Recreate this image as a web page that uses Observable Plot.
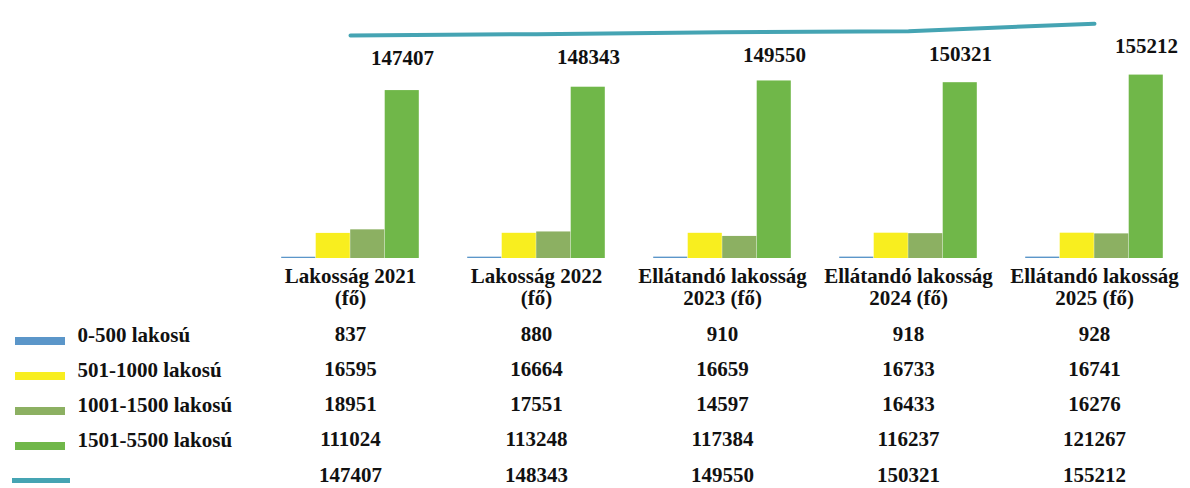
<!DOCTYPE html>
<html>
<head>
<meta charset="utf-8">
<script src="https://cdn.jsdelivr.net/npm/d3@7"></script>
<script src="https://cdn.jsdelivr.net/npm/@observablehq/plot@0.6"></script>
<style>
  html, body { margin: 0; padding: 0; background: #ffffff; }
  #chart { width: 1190px; height: 488px; overflow: hidden; }
</style>
</head>
<body>
<div id="chart"></div>
<script>
// ---- data ----
const categories = [
  "Lakosság 2021\n(fő)",
  "Lakosság 2022\n(fő)",
  "Ellátandó lakosság\n2023 (fő)",
  "Ellátandó lakosság\n2024 (fő)",
  "Ellátandó lakosság\n2025 (fő)"
];
const seriesNames = ["0-500 lakosú", "501-1000 lakosú", "1001-1500 lakosú", "1501-5500 lakosú"];
const s0_500 = [837, 880, 910, 918, 928];
const s501_1000 = [16595, 16664, 16659, 16733, 16741];
const s1001_1500 = [18951, 17551, 14597, 16433, 16276];
const s1501_5500 = [111024, 113248, 117384, 116237, 121267];
const totals = [147407, 148343, 149550, 150321, 155212];
const seriesColors = ["#5b96c9", "#f8ee1f", "#8cb062", "#70b749"];
const lineColor = "#45a4b3";

// ---- layout ----
const FONT = "'Liberation Serif', 'Times New Roman', serif";
const W = 1190, H = 488;
const mL = 256, mR = 2, mT = 16, mB = 230;
const band = (W - mL - mR) / categories.length;
const bw = 34.5;
const off = (band - 4 * bw) / 2;
const rowDy = [82, 117, 152, 187, 223];
const FS = 21;

const seriesValues = [s0_500, s501_1000, s1001_1500, s1501_5500];
const rowsTable = [...seriesValues, totals];

const marks = [];
// bars
seriesValues.forEach((vals, i) => {
  marks.push(Plot.barY(categories.map((c, j) => ({cat: c, v: vals[j]})), {
    x: "cat", y: "v", fill: seriesColors[i],
    insetLeft: off + i * bw, insetRight: band - off - (i + 1) * bw
  }));
});
// total line
const totalData = categories.map((c, j) => ({cat: c, v: totals[j]}));
marks.push(Plot.line(totalData, {x: "cat", y: "v", stroke: lineColor, strokeWidth: 4, curve: "linear"}));
marks.push(Plot.text(totalData, {x: "cat", y: "v", text: d => String(d.v), dx: 52, dy: 23,
  fontSize: FS, fontWeight: "bold", fill: "#111", fontFamily: FONT}));
// category labels
marks.push(Plot.text(categories, {x: d => d, text: d => d, frameAnchor: "bottom", dy: 9,
  lineAnchor: "top", lineHeight: 1.05, fontSize: FS, fontWeight: "bold", fill: "#111", fontFamily: FONT}));
// data table
rowsTable.forEach((vals, r) => {
  marks.push(Plot.text(categories.map((c, j) => ({cat: c, v: vals[j]})), {
    x: "cat", text: d => String(d.v), frameAnchor: "bottom", dy: rowDy[r],
    fontSize: FS, fontWeight: "bold", fill: "#111", fontFamily: FONT
  }));
});
// legend labels
seriesNames.forEach((name, i) => {
  marks.push(Plot.text([name], {text: d => d, frameAnchor: "bottom-left", dx: 77 - mL, dy: rowDy[i] + 1,
    textAnchor: "start", fontSize: FS, fontWeight: "bold", fill: "#111", fontFamily: FONT}));
});

const chart = Plot.plot({
  width: W, height: H,
  marginLeft: mL, marginRight: mR, marginTop: mT, marginBottom: mB,
  style: {fontFamily: FONT, background: "#ffffff", overflow: "visible"},
  x: {domain: categories, padding: 0, axis: null},
  y: {domain: [0, 160000], axis: null},
  marks
});

// legend swatches
const svg = d3.select(chart);
const baseY = H - mB;
const sw = svg.append("g");
seriesColors.forEach((col, i) => {
  sw.append("rect").attr("x", 15).attr("y", baseY + rowDy[i] + 1 - 4).attr("width", 50).attr("height", 8).attr("fill", col);
});
sw.append("rect").attr("x", 12).attr("y", baseY + rowDy[4] - 3).attr("width", 58).attr("height", 5).attr("fill", lineColor);

document.getElementById("chart").appendChild(chart);
</script>
</body>
</html>
